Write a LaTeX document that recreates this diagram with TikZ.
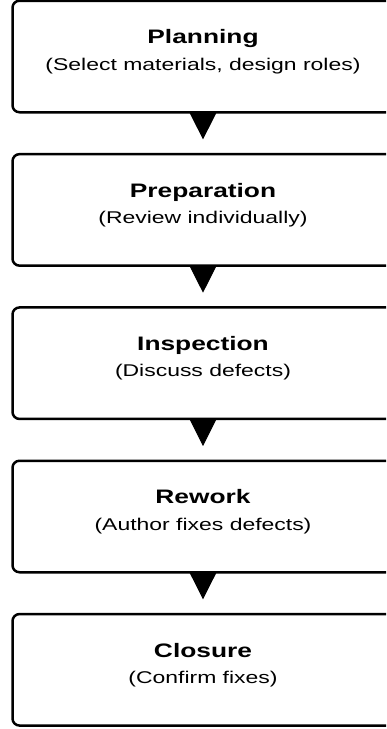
\documentclass[tikz,border=0pt]{standalone}
\usepackage{fontspec}
\setmainfont{Liberation Sans}[FakeStretch=1.35]
\usetikzlibrary{arrows.meta,calc}
\begin{document}
\begin{tikzpicture}[x=1pt,y=-1pt,
  stage/.style={draw=black, line width=2.5pt, rounded corners=7pt,
    minimum width=381pt, minimum height=111.5pt, inner sep=0pt, fill=white},
  stagetitle/.style={font=\bfseries\fontsize{19.5}{22}\selectfont, anchor=base, inner sep=0pt},
  stagenote/.style={font=\fontsize{17}{20}\selectfont, anchor=base, inner sep=0pt},
  flow/.style={line width=1pt, -{Triangle[length=27pt 0 0,width=27pt 0 0]}, shorten >=13.5pt}]
\useasboundingbox (0,0) rectangle (386,729);
\clip (0,0) rectangle (386,729);

% process stages
\node[stage] (s1) at (203,56.5)  {};
\node[stage] (s2) at (203,209.9) {};
\node[stage] (s3) at (203,363.2) {};
\node[stage] (s4) at (203,516.5) {};
\node[stage] (s5) at (203,669.8) {};

% stage names and descriptions
\node[stagetitle] (t1) at ($(s1.center)+(0,-12.75)$) {Planning};
\node[stagenote]  (d1) at ($(s1.center)+(0,13.75)$)  {(Select materials, design roles)};
\node[stagetitle] (t2) at ($(s2.center)+(0,-12.75)$) {Preparation};
\node[stagenote]  (d2) at ($(s2.center)+(0,13.75)$)  {(Review individually)};
\node[stagetitle] (t3) at ($(s3.center)+(0,-12.75)$) {Inspection};
\node[stagenote]  (d3) at ($(s3.center)+(0,13.75)$)  {(Discuss defects)};
\node[stagetitle] (t4) at ($(s4.center)+(0,-12.75)$) {Rework};
\node[stagenote]  (d4) at ($(s4.center)+(0,13.75)$)  {(Author fixes defects)};
\node[stagetitle] (t5) at ($(s5.center)+(0,-12.75)$) {Closure};
\node[stagenote]  (d5) at ($(s5.center)+(0,13.75)$)  {(Confirm fixes)};

% flow between stages
\draw[flow] (s1.south) -- (s2.north);
\draw[flow] (s2.south) -- (s3.north);
\draw[flow] (s3.south) -- (s4.north);
\draw[flow] (s4.south) -- (s5.north);
\end{tikzpicture}
\end{document}
